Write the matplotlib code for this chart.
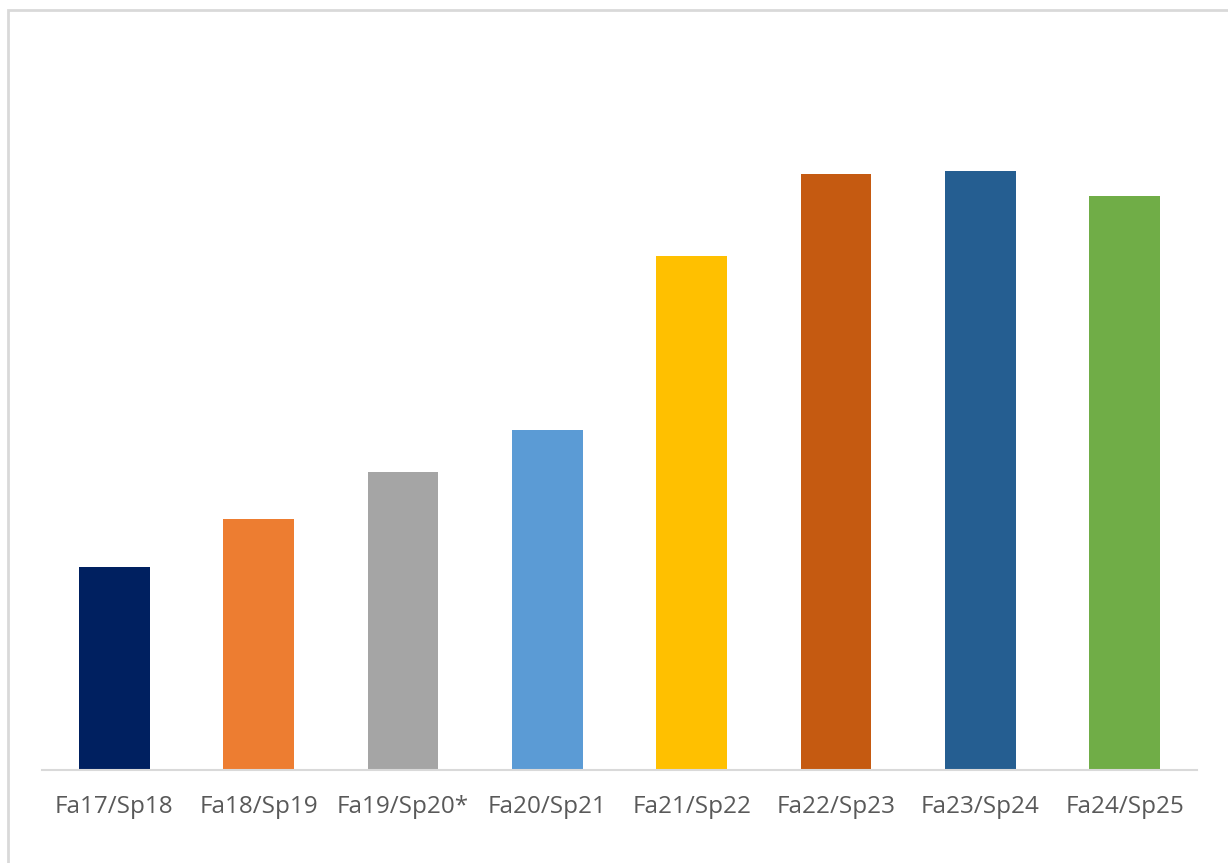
import matplotlib
matplotlib.use("Agg")
import matplotlib.pyplot as plt
from matplotlib.patches import Rectangle

terms = ["Fa17/Sp18", "Fa18/Sp19", "Fa19/Sp20*", "Fa20/Sp21",
         "Fa21/Sp22", "Fa22/Sp23", "Fa23/Sp24", "Fa24/Sp25"]
values = [203, 251, 298, 340, 514, 596, 599, 574]
colors = ["#002060", "#ED7D31", "#A5A5A5", "#5B9BD5",
          "#FFC000", "#C55A11", "#255E91", "#70AD47"]

W, H = 1228, 863
fig = plt.figure(figsize=(W / 100, H / 100), dpi=100)
fig.patches.append(Rectangle((8 / W, -0.1), 1.2, 1 - 10 / H + 0.1,
                             transform=fig.transFigure, fill=False,
                             edgecolor="#d9d9d9", lw=2))

ax = fig.add_axes([42 / W, 1 - 770 / H, (1197 - 42) / W, 700 / H])
ax.bar(range(len(terms)), values, width=0.49, color=colors)
ax.set_xlim(-0.5, len(terms) - 0.5)
ax.set_ylim(0, 700)

for s in ["top", "right", "left"]:
    ax.spines[s].set_visible(False)
ax.spines["bottom"].set_color("#d9d9d9")
ax.spines["bottom"].set_linewidth(1.5)
ax.set_yticks([])
ax.set_xticks(range(len(terms)))
ax.set_xticklabels(terms, fontsize=17.5, color="#595959", family="Open Sans")
ax.tick_params(axis="x", length=0, pad=18)

fig.savefig("out.png", dpi=100)
